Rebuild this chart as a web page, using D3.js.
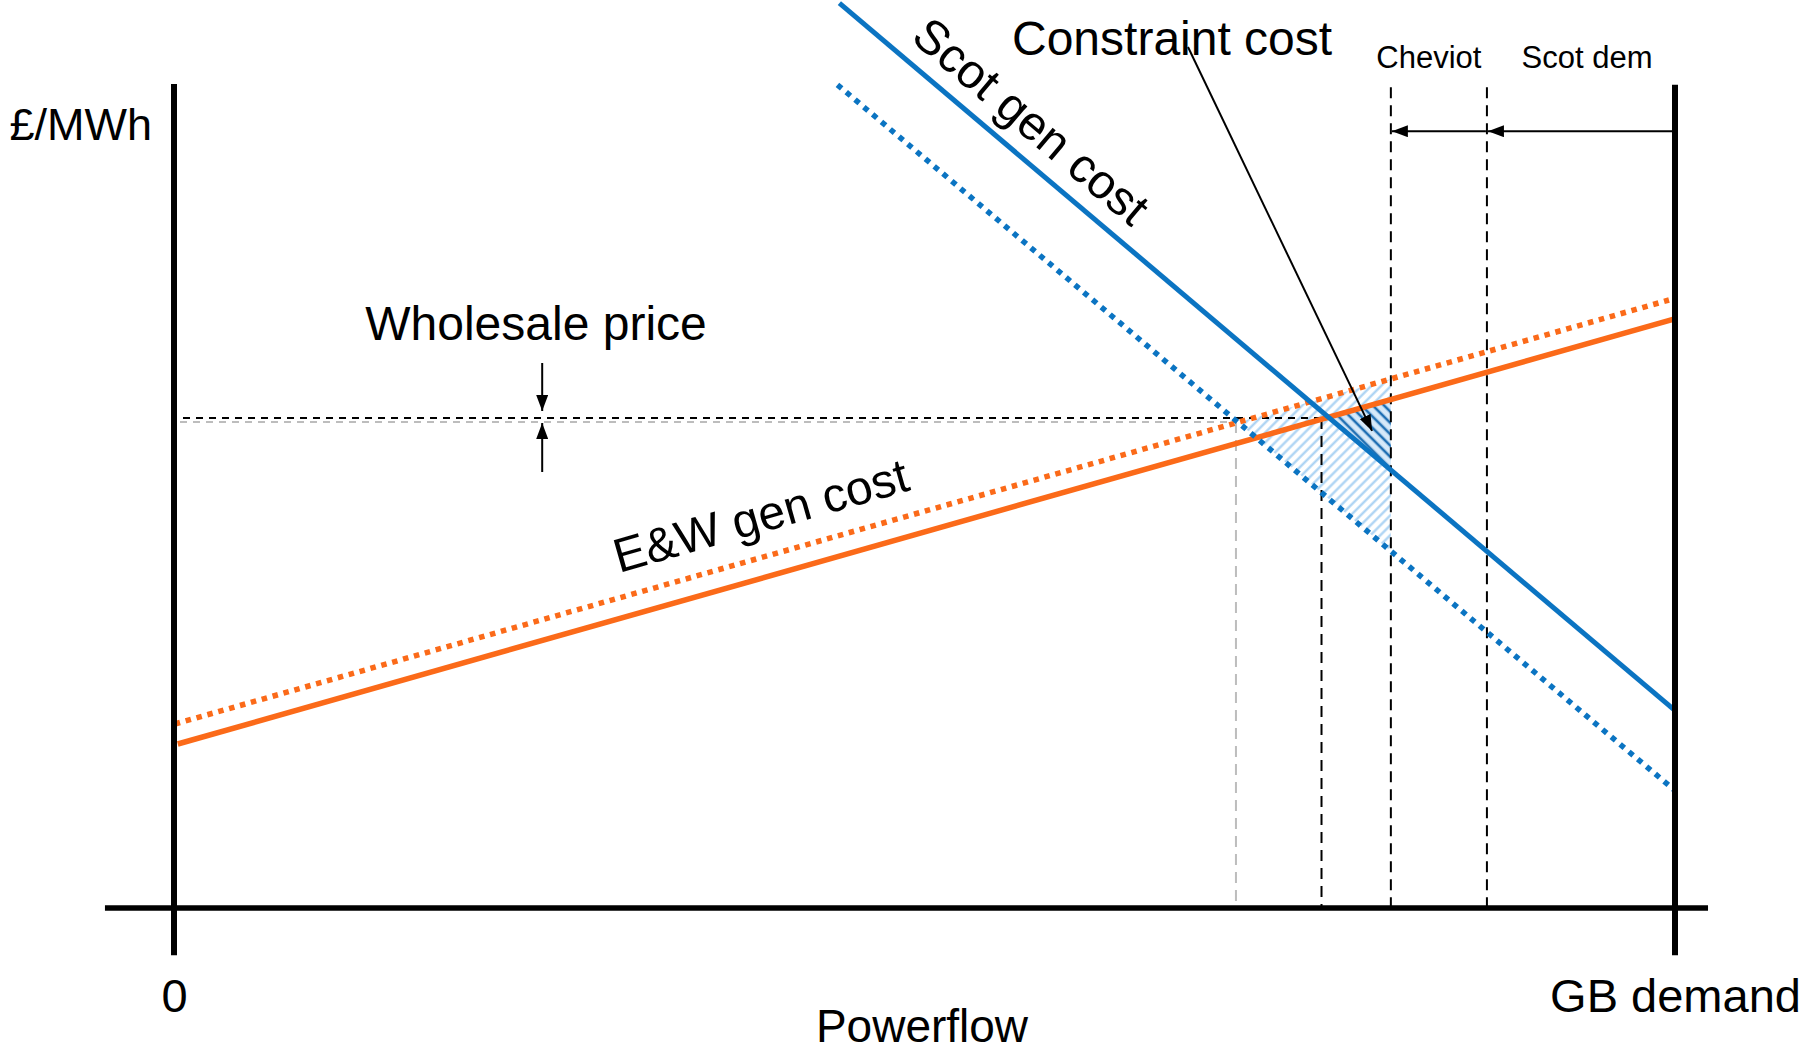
<!DOCTYPE html>
<html>
<head>
<meta charset="utf-8">
<script src="https://cdn.jsdelivr.net/npm/d3@7"></script>
<style>
  html, body { margin: 0; padding: 0; background: #fff; }
  svg { display: block; font-family: "Liberation Sans", Arial, sans-serif; }
</style>
</head>
<body>
<svg id="chart" width="1803" height="1054"></svg>
<script>
// ---------------- data (schematic units: powerflow 0..100 = 0..GB demand, price 0..100) -------------
const tickValues = [0, 100];
const tickLabels = ["0", "GB demand"];
const ewSolid    = [[0.25, 20.5], [100.1, 73.7]];   // E&W gen cost
const ewDotted   = [[0.05, 23.0], [99.6, 76.0]];    // E&W gen cost (shifted)
const scotSolid  = [[44.33, 113.1], [100.05, 24.6]]; // Scot gen cost
const scotDotted = [[44.2, 102.9], [100.05, 14.6]];  // Scot gen cost (shifted)
const flowMarks  = [70.75, 76.45];   // grey / black dashed drop lines
const priceMarks = [60.75, 61.25];   // grey / black wholesale price levels
const cheviotFlow = 81.07;
const scotDemFlow = 87.47;
const gbDemandFlow = 100;

// ---------------- layout ----------------
const svg = d3.select("#chart");
const x = d3.scaleLinear().domain([0, 100]).range([174, 1675]);
const y = d3.scaleLinear().domain([0, 100]).range([908, 108]);

const BLUE = "#0b74c2", ORANGE = "#fb6a19";
const defs = svg.append("defs");

// hatch patterns
const pl = defs.append("pattern").attr("id", "hatchLight").attr("patternUnits", "userSpaceOnUse")
  .attr("width", 7).attr("height", 7).attr("patternTransform", "rotate(45)");
pl.append("rect").attr("width", 7).attr("height", 7).attr("fill", "#fff");
pl.append("line").attr("x1", 3.5).attr("x2", 3.5).attr("y1", 0).attr("y2", 7)
  .attr("stroke", "#a7d0f3").attr("stroke-width", 2.2);
const pd = defs.append("pattern").attr("id", "hatchDark").attr("patternUnits", "userSpaceOnUse")
  .attr("width", 8).attr("height", 8).attr("patternTransform", "rotate(-45)");
pd.append("rect").attr("width", 8).attr("height", 8).attr("fill", "#d6e9f9");
pd.append("line").attr("x1", 4).attr("x2", 4).attr("y1", 0).attr("y2", 8)
  .attr("stroke", "#1f6fb3").attr("stroke-width", 2.6);

// arrow marker
defs.append("marker").attr("id", "arrow").attr("markerUnits", "userSpaceOnUse")
  .attr("viewBox", "0 0 16 12").attr("refX", 16).attr("refY", 6)
  .attr("markerWidth", 16).attr("markerHeight", 12).attr("orient", "auto")
  .append("path").attr("d", "M0,0 L16,6 L0,12 Z").attr("fill", "#000");

// helpers
function lineAt(seg, xv) {
  const [[x1, y1], [x2, y2]] = seg;
  return y1 + (y2 - y1) * (xv - x1) / (x2 - x1);
}
function intersect(a, b) {
  const ma = (a[1][1] - a[0][1]) / (a[1][0] - a[0][0]);
  const mb = (b[1][1] - b[0][1]) / (b[1][0] - b[0][0]);
  const ca = a[0][1] - ma * a[0][0], cb = b[0][1] - mb * b[0][0];
  const xi = (cb - ca) / (ma - mb);
  return [xi, ma * xi + ca];
}
const toPx = p => [x(p[0]), y(p[1])];
const lineGen = d3.line().x(d => x(d[0])).y(d => y(d[1]));

// ---------------- hatched areas ----------------
const pDot = intersect(ewDotted, scotDotted);
const lightTri = [pDot, [cheviotFlow, lineAt(ewDotted, cheviotFlow)], [cheviotFlow, lineAt(scotDotted, cheviotFlow)]];
svg.append("path").attr("d", lineGen(lightTri) + "Z").attr("fill", "url(#hatchLight)");
const pSol = intersect(ewSolid, scotSolid);
const darkTri = [pSol, [cheviotFlow, lineAt(ewSolid, cheviotFlow)], [cheviotFlow, lineAt(scotSolid, cheviotFlow)]];
svg.append("path").attr("d", lineGen(darkTri) + "Z").attr("fill", "url(#hatchDark)");

// ---------------- dashed reference lines ----------------
svg.append("line").attr("x1", x(0.4)).attr("x2", x(flowMarks[0]))
  .attr("y1", y(priceMarks[0])).attr("y2", y(priceMarks[0]))
  .attr("stroke", "#bdbdbd").attr("stroke-width", 2).attr("stroke-dasharray", "7,6");
svg.append("line").attr("x1", x(flowMarks[0])).attr("x2", x(flowMarks[0]))
  .attr("y1", y(priceMarks[0])).attr("y2", y(0))
  .attr("stroke", "#bdbdbd").attr("stroke-width", 2).attr("stroke-dasharray", "11,7");
svg.append("line").attr("x1", x(0.6)).attr("x2", x(flowMarks[1]))
  .attr("y1", y(priceMarks[1])).attr("y2", y(priceMarks[1]))
  .attr("stroke", "#000").attr("stroke-width", 2).attr("stroke-dasharray", "7,6");
svg.append("line").attr("x1", x(flowMarks[1])).attr("x2", x(flowMarks[1]))
  .attr("y1", y(priceMarks[1])).attr("y2", y(0))
  .attr("stroke", "#000").attr("stroke-width", 2).attr("stroke-dasharray", "11,7");
[cheviotFlow, scotDemFlow].forEach(f => {
  svg.append("line").attr("x1", x(f)).attr("x2", x(f))
    .attr("y1", y(102.6)).attr("y2", y(0))
    .attr("stroke", "#000").attr("stroke-width", 2).attr("stroke-dasharray", "11,7");
});

// ---------------- cost curves ----------------
svg.append("path").attr("d", lineGen(ewDotted)).attr("stroke", ORANGE).attr("stroke-width", 5.5)
  .attr("fill", "none").attr("stroke-dasharray", "5.5,5.8");
svg.append("path").attr("d", lineGen(ewSolid)).attr("stroke", ORANGE).attr("stroke-width", 5.5).attr("fill", "none");
svg.append("path").attr("d", lineGen(scotDotted)).attr("stroke", BLUE).attr("stroke-width", 5.5)
  .attr("fill", "none").attr("stroke-dasharray", "5.5,6");
svg.append("path").attr("d", lineGen(scotSolid)).attr("stroke", BLUE).attr("stroke-width", 5).attr("fill", "none");

// ---------------- axes ----------------
svg.append("line").attr("x1", x(-4.6)).attr("x2", x(102.2)).attr("y1", y(0)).attr("y2", y(0))
  .attr("stroke", "#000").attr("stroke-width", 5.5);
svg.append("line").attr("x1", x(0)).attr("x2", x(0)).attr("y1", y(103)).attr("y2", y(-5.9))
  .attr("stroke", "#000").attr("stroke-width", 6);
svg.append("line").attr("x1", x(gbDemandFlow)).attr("x2", x(gbDemandFlow)).attr("y1", y(102.9)).attr("y2", y(-5.9))
  .attr("stroke", "#000").attr("stroke-width", 6);

const xAxis = d3.axisBottom(x).tickValues(tickValues)
  .tickFormat((d, i) => tickLabels[i]).tickSize(0).tickPadding(71);
const gx = svg.append("g").attr("transform", `translate(0,${y(0)})`).call(xAxis);
gx.select(".domain").remove();
gx.selectAll("text").attr("font-size", 47).attr("fill", "#000")
  .attr("font-family", "'Liberation Sans', Arial, sans-serif");

// axis titles
svg.append("text").attr("x", 922).attr("y", 1042).attr("text-anchor", "middle")
  .attr("font-size", 46).text("Powerflow");
svg.append("text").attr("x", 152).attr("y", 140).attr("text-anchor", "end")
  .attr("font-size", 45).text("£/MWh");

// ---------------- line labels ----------------
function labelOnLine(seg, xv, offset, txt) {
  const p1 = toPx(seg[0]), p2 = toPx(seg[1]);
  const ang = Math.atan2(p2[1] - p1[1], p2[0] - p1[0]);
  const base = [x(xv), y(lineAt(seg, xv))];
  const nx = Math.sin(ang), ny = -Math.cos(ang);
  const px = base[0] + nx * offset, py = base[1] + ny * offset;
  svg.append("text").attr("transform", `translate(${px},${py}) rotate(${ang * 180 / Math.PI})`)
    .attr("text-anchor", "middle").attr("font-size", 48).text(txt);
}
labelOnLine(scotSolid, 55.65, 17.5, "Scot gen cost");
labelOnLine(ewDotted, 39.83, 24, "E&W gen cost");

// ---------------- annotations ----------------
svg.append("text").attr("x", 1012).attr("y", 55).attr("font-size", 48).text("Constraint cost");
const cen = toPx([d3.mean(darkTri, d => d[0]), d3.mean(darkTri, d => d[1])]);
svg.append("line").attr("x1", 1188).attr("y1", 47).attr("x2", cen[0] + 2).attr("y2", cen[1] + 2)
  .attr("stroke", "#000").attr("stroke-width", 2).attr("marker-end", "url(#arrow)");

svg.append("text").attr("x", 536).attr("y", 340).attr("text-anchor", "middle")
  .attr("font-size", 48).text("Wholesale price");
const wx = x(24.53);
svg.append("line").attr("x1", wx).attr("x2", wx).attr("y1", 363).attr("y2", y(priceMarks[1]) - 7)
  .attr("stroke", "#000").attr("stroke-width", 2).attr("marker-end", "url(#arrow)");
svg.append("line").attr("x1", wx).attr("x2", wx).attr("y1", 472).attr("y2", y(priceMarks[0]) + 1)
  .attr("stroke", "#000").attr("stroke-width", 2).attr("marker-end", "url(#arrow)");

// Cheviot / Scot dem arrows
const ay = y(97.1);
svg.append("line").attr("x1", x(gbDemandFlow) - 3).attr("x2", x(scotDemFlow) + 1).attr("y1", ay).attr("y2", ay)
  .attr("stroke", "#000").attr("stroke-width", 2).attr("marker-end", "url(#arrow)");
svg.append("line").attr("x1", x(scotDemFlow) - 1).attr("x2", x(cheviotFlow) + 1).attr("y1", ay).attr("y2", ay)
  .attr("stroke", "#000").attr("stroke-width", 2).attr("marker-end", "url(#arrow)");
svg.append("text").attr("x", (x(cheviotFlow) + x(scotDemFlow)) / 2 - 10).attr("y", 68).attr("text-anchor", "middle")
  .attr("font-size", 31).text("Cheviot");
svg.append("text").attr("x", 1587).attr("y", 68).attr("text-anchor", "middle")
  .attr("font-size", 31).text("Scot dem");
</script>
</body>
</html>
